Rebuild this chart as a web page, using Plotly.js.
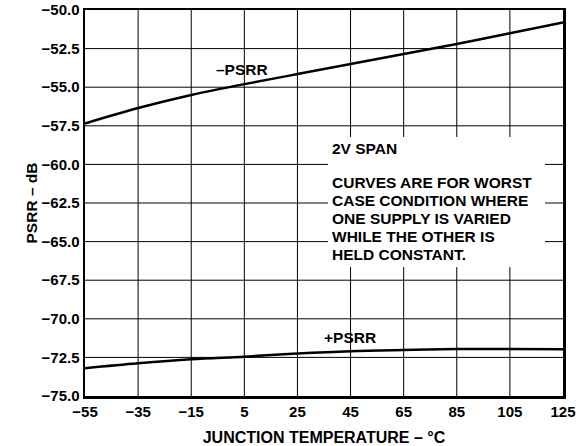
<!DOCTYPE html>
<html><head><meta charset="utf-8">
<script src="https://cdn.plot.ly/plotly-3.0.1.min.js"></script>
<style>html,body{margin:0;padding:0;background:#fff}#chart{width:582px;height:446px}</style>
</head><body><div id="chart"></div>
<script>
const temperature = [-55, -35, -15, 5, 25, 45, 65, 85, 105, 125];
const negPSRR = [-57.35, -56.35, -55.5, -54.8, -54.15, -53.5, -52.85, -52.2, -51.5, -50.8];
const posPSRR = [-73.2, -72.88, -72.62, -72.45, -72.25, -72.1, -72.02, -71.96, -71.95, -71.97];
const xTickVals = [-55, -35, -15, 5, 25, 45, 65, 85, 105, 125];
const yTickVals = [-50, -52.5, -55, -57.5, -60, -62.5, -65, -67.5, -70, -72.5, -75];
const noteLines = ["CURVES ARE FOR WORST", "CASE CONDITION WHERE", "ONE SUPPLY IS VARIED", "WHILE THE OTHER IS", "HELD CONSTANT."];

const F = "Liberation Sans, Arial, Helvetica, sans-serif";
const bold = (size) => ({family: F, size: size, color: "#000", weight: "bold"});
// pixel -> data helpers for layout placement of labels and the note panel
const dx = (p) => -55 + (p - 85) / 478 * 180;
const dy = (p) => -50 - (p - 10) / 386 * 25;

const labels = [
  {x: 216, y: 71, text: "\u2013PSRR"},
  {x: 324, y: 339, text: "+PSRR"},
  {x: 332, y: 150, text: "2V SPAN"}
];
noteLines.forEach((t, i) => labels.push({x: 332, y: 184 + i * 18, text: t}));

const traces = [
  {x: temperature, y: negPSRR, mode: "lines", line: {color: "#000", width: 2.5, shape: "spline"}, hoverinfo: "skip"},
  {x: temperature, y: posPSRR, mode: "lines", line: {color: "#000", width: 2.5, shape: "spline"}, hoverinfo: "skip"},
  {
    x: [dx(328), dx(545), dx(545), dx(328), dx(328)],
    y: [dy(137), dy(137), dy(267), dy(267), dy(137)],
    mode: "none", fill: "toself", fillcolor: "#fff", hoverinfo: "skip"
  },
  {
    x: labels.map(l => dx(l.x)), y: labels.map(l => dy(l.y)),
    text: labels.map(l => l.text),
    mode: "text", textposition: "middle right", cliponaxis: false,
    textfont: bold(15.5), hoverinfo: "skip"
  }
];
// grid drawn as shapes from the tick arrays (below traces, so the note panel covers them)
const gridShapes = xTickVals.slice(1, -1).map(v => ({
  type: "line", layer: "below", xref: "x", yref: "paper", x0: v, x1: v, y0: 0, y1: 1,
  line: {color: "#000", width: 1}
})).concat(yTickVals.slice(1, -1).map(v => ({
  type: "line", layer: "below", xref: "paper", yref: "y", x0: 0, x1: 1, y0: v, y1: v,
  line: {color: "#000", width: 1}
})));
const layout = {
  width: 582, height: 446,
  margin: {l: 85, r: 19, t: 10, b: 50},
  showlegend: false,
  font: bold(15),
  xaxis: {
    range: [-55, 125], tickvals: xTickVals,
    showgrid: false, zeroline: false,
    showline: true, linecolor: "#000", linewidth: 2.5, mirror: true,
    tickfont: bold(15),
    title: {text: "JUNCTION TEMPERATURE \u2013 \u00b0C", font: bold(16)}
  },
  yaxis: {
    range: [-75, -50], tickvals: yTickVals, tickformat: ".1f",
    showgrid: false, zeroline: false,
    showline: true, linecolor: "#000", linewidth: 2.5, mirror: true,
    tickfont: bold(15),
    title: {text: "PSRR \u2013 dB", font: bold(15.5)}
  },
  shapes: gridShapes
};
Plotly.newPlot("chart", traces, layout, {staticPlot: true, displayModeBar: false});
</script></body></html>
